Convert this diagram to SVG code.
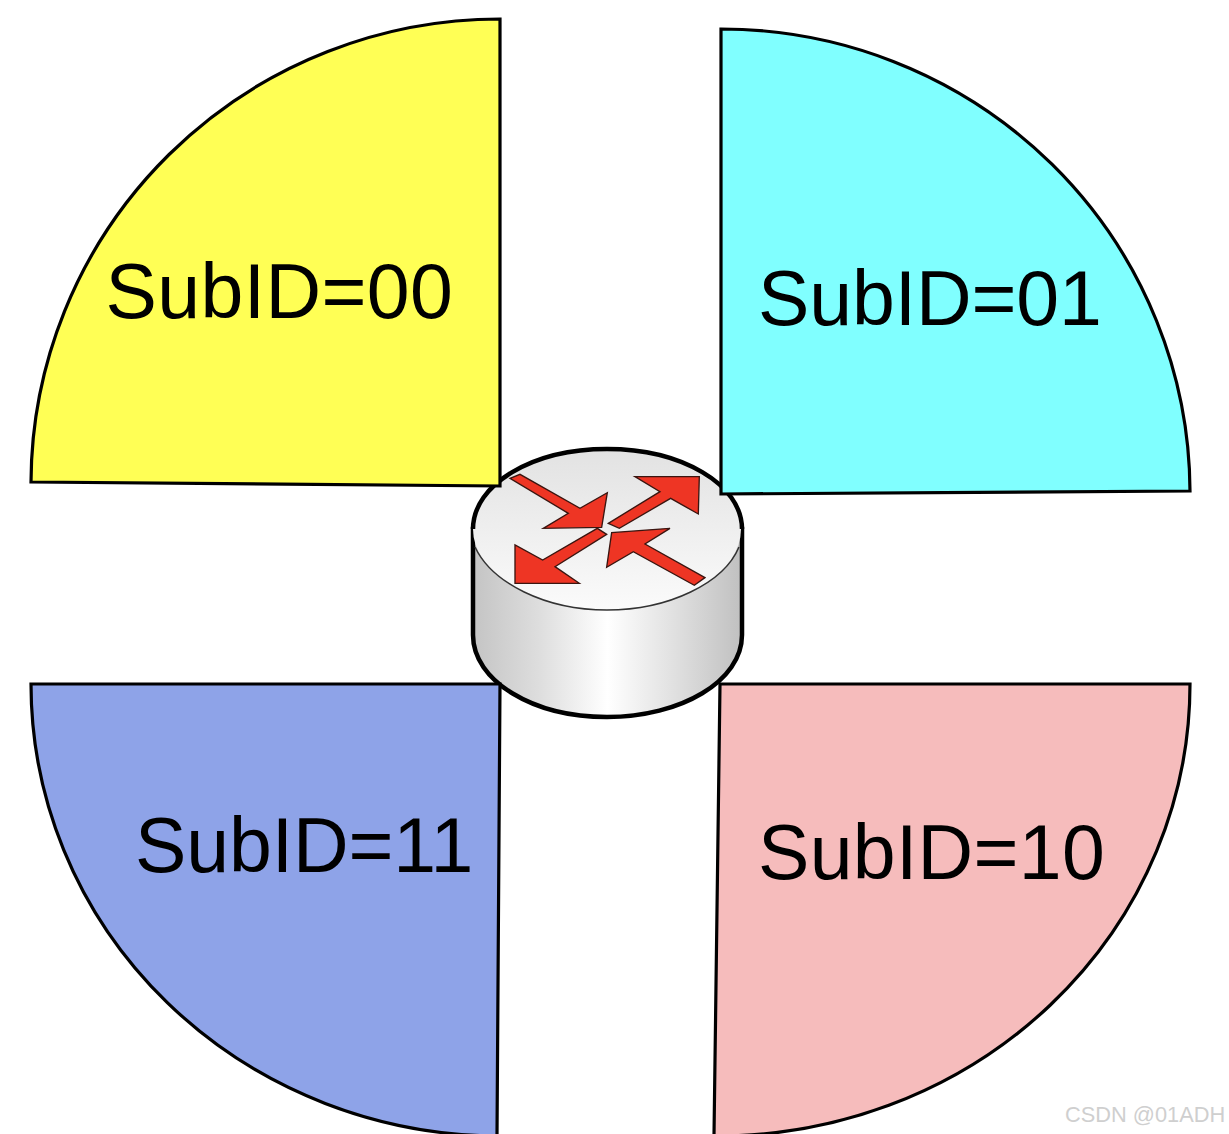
<svg xmlns="http://www.w3.org/2000/svg" width="1229" height="1134" viewBox="0 0 1229 1134">
<style>
.q{stroke:#000;stroke-width:3.200;stroke-linejoin:miter}
.t{font-family:"Liberation Sans",Arial,sans-serif;font-size:77px;fill:#000}
.a{fill:#ee3524;stroke:#3a1510;stroke-width:4}
.wm{font-family:"Liberation Sans",Arial,sans-serif;font-size:21.800px;fill:#cfcfcf}
</style>
<defs>
<linearGradient id="side" x1="0" x2="1" y1="0" y2="0">
<stop offset="0" stop-color="#c4c4c4"/><stop offset=".25" stop-color="#dedede"/><stop offset=".5" stop-color="#fff"/><stop offset=".75" stop-color="#e0e0e0"/><stop offset="1" stop-color="#c0c0c0"/>
</linearGradient>
<linearGradient id="top" x1="0" x2="0" y1="0" y2="1">
<stop offset="0" stop-color="#e2e2e2"/><stop offset="1" stop-color="#fbfbfb"/>
</linearGradient>
</defs>
<rect width="1229" height="1134" fill="#fff"/>
<g id="router">
<path fill="url(#side)" stroke="#000" stroke-width="4.500" d="M473 529V635C473 681 533 717 607 717S742 681 742 635V529Z"/>
<ellipse cx="607" cy="529" rx="134" ry="81" fill="url(#top)" stroke="none"/>
<path fill="none" stroke="#333" stroke-width="1.500" d="M475 547C492 583 545 610 607 610S724 583 739 547"/>
<path fill="none" stroke="#000" stroke-width="4.500" d="M473 529C473 484 533 449 607 449S742 484 742 529"/>
<g transform="translate(460 440) scale(.3333)">
<path class="a" d="M150 115L180 103L360 205L442 158L425 262L250 265L325 220Z"/>
<path class="a" d="M445 250L600 155L525 110H718L715 222L632 175L478 265Z"/>
<path class="a" d="M440 283L285 380L358 430H165V315L248 360L412 265Z"/>
<path class="a" d="M735 413L703 436L520 335L440 382L455 278L630 265L555 312Z"/>
</g>
</g>
<g id="sub00"><path class="q" fill="#ffff55" d="M500 19V486L31 482A469 465 0 0 1 500 19Z"/><text class="t" x="105.500" y="318" letter-spacing=".4">SubID=00</text></g>
<g id="sub01"><path class="q" fill="#80ffff" d="M721 29V494L1190 491A469 464 0 0 0 721 29Z"/><text class="t" x="758" y="325" letter-spacing="-.1">SubID=01</text></g>
<g id="sub11"><path class="q" fill="#8ea3e8" d="M31 684H500L497 1136A469 452 0 0 1 31 684Z"/><text class="t" x="135" y="872" letter-spacing="-.1">SubID=11</text></g>
<g id="sub10"><path class="q" fill="#f6bcbc" d="M720 684H1190A472 452 0 0 1 714 1136Z"/><text class="t" x="758" y="879" letter-spacing=".3">SubID=10</text></g>
<text class="wm" x="1065" y="1122">CSDN @01ADH</text>
</svg>
